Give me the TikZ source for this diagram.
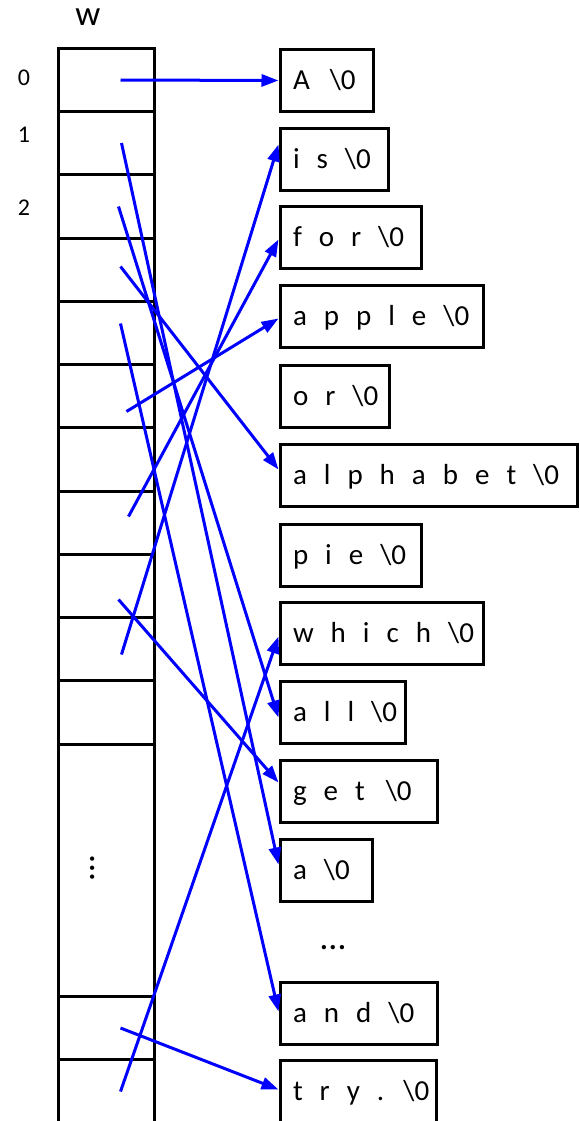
\documentclass[tikz,border=0pt]{standalone}
\usepackage{fontspec}
\setmainfont{Carlito}
\usetikzlibrary{arrows.meta}
% letters of the stored strings are set with wide gaps
\newcommand\strfont{\fontsize{29}{34}\selectfont}
\newcommand\spaced[2]{\makebox[#1][l]{\spaceskip=17pt\relax #2}}

\begin{document}
\begin{tikzpicture}[x=1pt,y=-1pt,
  cell/.style={draw,line width=3pt,minimum width=96pt,inner sep=0pt,anchor=north west},
  strbox/.style={draw,line width=3pt,anchor=north west,minimum height=62pt,
    inner xsep=13pt,inner ysep=0pt,font=\strfont,
    text height=22pt,text depth=3.3pt},
  ptr/.style={draw=blue,line width=3pt,-{Triangle[length=17pt,width=12pt,fill=blue]}},
  idx/.style={font=\fontsize{24}{28}\selectfont,inner sep=0pt},
  ellip/.style={font=\fontsize{36}{40}\selectfont,inner sep=0pt,text height=3.3pt,text depth=0pt}
]
\useasboundingbox (0,0) rectangle (579,1121);
\clip (0,0) rectangle (579,1121);

% the array w and its cells
\node[font=\fontsize{35}{40}\selectfont,inner sep=0pt] (wlabel) at (88,17) {w};
\node[cell,minimum height=63pt]  (c0)  at (57,47)   {};
\node[cell,minimum height=63pt]  (c1)  at (57,110)  {};
\node[cell,minimum height=64pt]  (c2)  at (57,173)  {};
\node[cell,minimum height=63pt]  (c3)  at (57,237)  {};
\node[cell,minimum height=63pt]  (c4)  at (57,300)  {};
\node[cell,minimum height=63pt]  (c5)  at (57,363)  {};
\node[cell,minimum height=64pt]  (c6)  at (57,426)  {};
\node[cell,minimum height=63pt]  (c7)  at (57,490)  {};
\node[cell,minimum height=63pt]  (c8)  at (57,553)  {};
\node[cell,minimum height=63pt]  (c9)  at (57,616)  {};
\node[cell,minimum height=64pt]  (c10) at (57,679)  {};
\node[cell,minimum height=252pt] (c11) at (57,743)  {};
\node[cell,minimum height=63pt]  (c12) at (57,995)  {};
\node[cell,minimum height=70pt]  (c13) at (57,1058) {};
\node[ellip,rotate=90] (vdots) at (93,868) {…};

% indices
\node[idx] (i0) at (24,77.5)  {0};
\node[idx] (i1) at (24,135)   {1};
\node[idx] (i2) at (24,207.5) {2};

% the strings
\node[strbox] (A)     at (278.5,48)   {\spaced{67.5pt}{A \hspace{3pt}\textbackslash0}};
\node[strbox] (is)    at (278.5,127)  {\spaced{82pt}{i s \textbackslash0}};
\node[strbox] (for)   at (278.5,205)  {\spaced{115.5pt}{f o r \textbackslash0}};
\node[strbox] (apple) at (278.5,284)  {\spaced{177.5pt}{a p p l e \textbackslash0}};
\node[strbox] (or)    at (278.5,364)  {\spaced{83.5pt}{o r \textbackslash0}};
\node[strbox] (alph)  at (278.5,443)  {\spaced{271.5pt}{a l p h a b e t \textbackslash0}};
\node[strbox] (pie)   at (278.5,523)  {\spaced{115.5pt}{p i e \textbackslash0}};
\node[strbox] (which) at (278.5,601)  {\spaced{177.5pt}{w h i c h \textbackslash0}};
\node[strbox] (all)   at (278.5,680)  {\spaced{99.5pt}{a l l \textbackslash0}};
\node[strbox] (get)   at (278.5,759)  {\spaced{131.5pt}{g e t \hspace{4pt}\textbackslash0}};
\node[strbox] (a)     at (278.5,838)  {\spaced{66.5pt}{a \textbackslash0}};
\node[ellip] (hdots) at (333,948) {…};
\node[strbox] (and)   at (278.5,981)  {\spaced{131.5pt}{a n d \textbackslash0}};
\node[strbox] (try)   at (278.5,1059) {\spaced{130.5pt}{t r y . \textbackslash0}};

% pointers
\draw[ptr] ([xshift=14pt]c0.center) -- (A.west);
\draw[ptr] ([xshift=15pt]c1.center) -- ([yshift=6pt]a.west);
\draw[ptr] ([xshift=12pt]c2.center) -- ([yshift=-5pt]all.west);
\draw[ptr] ([xshift=14pt,yshift=3.5pt]c3.center) -- ([yshift=6pt]alph.west);
\draw[ptr] ([xshift=14pt,yshift=9.5pt]c4.center) -- ([yshift=2pt]and.west);
\draw[ptr] ([xshift=20pt,yshift=-15.5pt]c5.center) -- ([yshift=-2pt]apple.west);
\draw[ptr] ([xshift=22pt,yshift=6.5pt]c7.center) -- ([yshift=-2pt]for.west);
\draw[ptr] ([xshift=12pt,yshift=-13.5pt]c8.center) -- ([yshift=9pt]get.west);
\draw[ptr] ([xshift=15pt,yshift=-5.5pt]c9.center) -- ([yshift=15pt]is.west);
\draw[ptr] ([xshift=14pt]c12.center) -- ([yshift=2pt]try.west);
\draw[ptr] ([xshift=14pt,yshift=3pt]c13.center) -- ([yshift=-3pt]which.west);
\end{tikzpicture}
\end{document}
